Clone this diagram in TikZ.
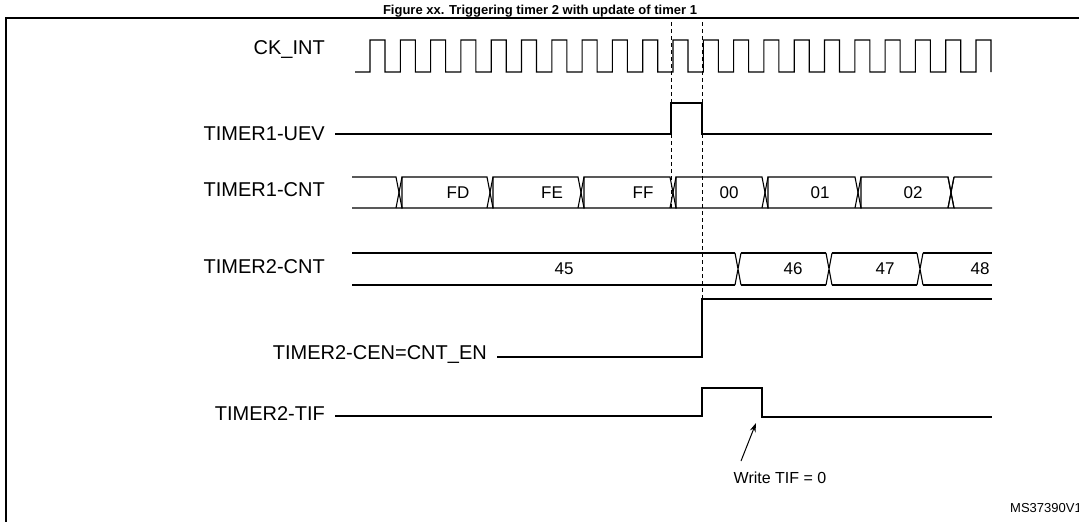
\documentclass[tikz,border=0pt]{standalone}
\usepackage{fontspec}
\setmainfont{Liberation Sans}
\usetikzlibrary{arrows.meta}
\begin{document}
\begin{tikzpicture}[x=1pt,y=-1pt,
  sig/.style={line width=1.1pt},
  lbl/.style={anchor=east,font=\fontsize{20}{20}\selectfont,inner sep=0pt},
  val/.style={font=\fontsize{17}{17}\selectfont,inner sep=0pt},
  dsh/.style={line width=0.8pt,dash pattern=on 4pt off 3pt}]
\useasboundingbox (0,0) rectangle (1079,522);
\clip (0,0) rectangle (1079,522);
\node[font=\bfseries\fontsize{13}{13}\selectfont,anchor=base] (title) at (540,14) {Figure xx. Triggering timer 2 with update of timer 1};
\draw[line width=1.2pt] (6,522) -- (6,18) -- (1085,18);
% labels
\node[lbl] (l1) at (325,50) {CK\_INT};
\node[lbl] (l2) at (325,134) {TIMER1-UEV};
\node[lbl] (l3) at (325,190) {TIMER1-CNT};
\node[lbl] (l4) at (325,267) {TIMER2-CNT};
\node[lbl] (l5) at (487,355) {TIMER2-CEN=CNT\_EN};
\node[lbl] (l6) at (325,414) {TIMER2-TIF};
% dashed lines
\draw[dsh] (671,22) -- (671,208);
\draw[dsh] (702,22) -- (702,299);
% clock
\draw[sig] (355,72) -- (370,72)
  \foreach \k in {0,...,19} { -- ({370+30.3*\k},40) -- ({385+30.3*\k},40) -- ({385+30.3*\k},72) -- ({400.3+30.3*\k},72) }
  -- (976,40) -- (991,40) -- (991,72);
% UEV
\draw[sig] (335,134) -- (671,134) -- (671,103) -- (702,103) -- (702,134) -- (992,134);
% TIMER1-CNT bus
\def\ya{177}\def\yb{208}
\draw[sig] (352,\ya) -- (396,\ya) -- (402,\yb) -- (352,\yb);
\foreach \a/\b in {402/487,493/578,584/670,676/762,768/855,861/948} {
  \draw[sig] (\a,\ya) -- (\b,\ya) -- (\b+6,\yb) -- (\a,\yb) -- cycle; }
\draw[sig] (396,\yb) -- (402,\ya);
\draw[sig] (954,\ya) -- (992,\ya) (954,\yb) -- (992,\yb) (948,\ya) -- (954,\yb) (948,\yb) -- (954,\ya);
\foreach \a/\b in {402/487,493/578,584/670,676/762,768/855,861/948} {
  \draw[sig] (\b,\yb) -- (\b+6,\ya); }
\node[val] (fd) at (458,193) {FD};
\node[val] (fe) at (552,193) {FE};
\node[val] (ff) at (643,193) {FF};
\node[val] (c00) at (729,193) {00};
\node[val] (c01) at (820,193) {01};
\node[val] (c02) at (913,193) {02};
% TIMER2-CNT bus
\def\yc{253}\def\yd{285}
\draw[sig] (352,\yc) -- (735,\yc) (352,\yd) -- (735,\yd);
\foreach \a in {735,826,917} { \draw[sig] (\a,\yc) -- (\a+6,\yd) (\a,\yd) -- (\a+6,\yc); }
\draw[sig] (741,\yc) -- (826,\yc) (741,\yd) -- (826,\yd) (832,\yc) -- (917,\yc) (832,\yd) -- (917,\yd) (923,\yc) -- (992,\yc) (923,\yd) -- (992,\yd);
\node[val] (c45) at (564,269) {45};
\node[val] (c46) at (793,269) {46};
\node[val] (c47) at (885,269) {47};
\node[val] (c48) at (980,269) {48};
% CEN
\draw[sig] (497,357) -- (702,357) -- (702,299) -- (992,299);
% TIF
\draw[sig] (335,416) -- (702,416) -- (702,388) -- (762,388) -- (762,417) -- (992,417);
\node[font=\fontsize{16}{16}\selectfont,inner sep=0pt] (w) at (780,478) {Write TIF = 0};
\coordinate (tip) at (756,423);
\draw[line width=1pt,-{Stealth[length=9pt,width=6pt]}] (741,461) -- (tip);
\node[font=\fontsize{13}{13}\selectfont,anchor=west,inner sep=0pt] (ms) at (1010,508) {MS37390V1};
\end{tikzpicture}
\end{document}
